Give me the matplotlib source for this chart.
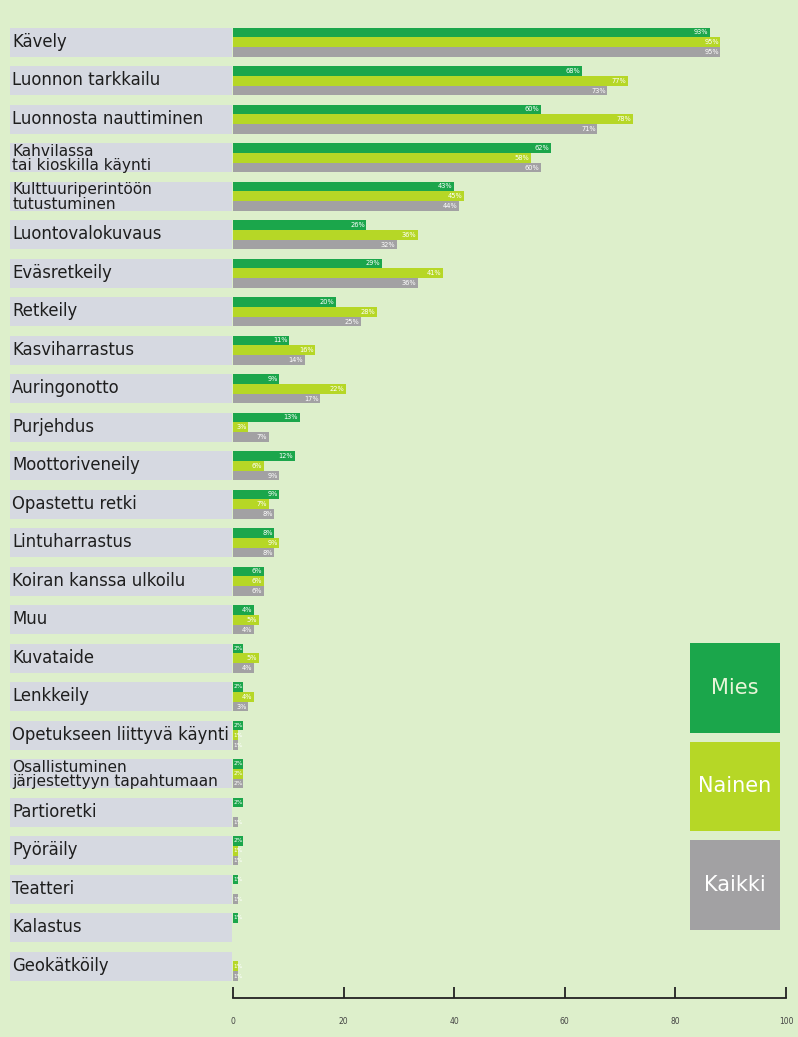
import matplotlib
matplotlib.use("Agg")
import matplotlib.pyplot as plt
from matplotlib.patches import Rectangle
import numpy as np

categories = [
    "Kävely", "Luonnon tarkkailu", "Luonnosta nauttiminen",
    "Kahvilassa\ntai kioskilla käynti", "Kulttuuriperintöön\ntutustuminen",
    "Luontovalokuvaus", "Eväsretkeily", "Retkeily", "Kasviharrastus",
    "Auringonotto", "Purjehdus", "Moottoriveneily", "Opastettu retki",
    "Lintuharrastus", "Koiran kanssa ulkoilu", "Muu", "Kuvataide",
    "Lenkkeily", "Opetukseen liittyvä käynti",
    "Osallistuminen\njärjestettyyn tapahtumaan", "Partioretki", "Pyöräily",
    "Teatteri", "Kalastus", "Geokätköily",
]
mies   = [93, 68, 60, 62, 43, 26, 29, 20, 11, 9, 13, 12, 9, 8, 6, 4, 2, 2, 2, 2, 2, 2, 1, 1, 0]
nainen = [95, 77, 78, 58, 45, 36, 41, 28, 16, 22, 3, 6, 7, 9, 6, 5, 5, 4, 1, 2, 0, 1, 0, 0, 1]
kaikki = [95, 73, 71, 60, 44, 32, 36, 25, 14, 17, 7, 9, 8, 8, 6, 4, 4, 3, 1, 2, 1, 1, 1, 0, 1]
series_names = ["Mies", "Nainen", "Kaikki"]
axis_ticks = [0, 20, 40, 60, 80, 100]

BG = "#ddefcb"
BOX = "#d6d9e1"
COLORS = ["#1ba64b", "#b6d726", "#a2a1a3"]

W, H = 798, 1037
fig = plt.figure(figsize=(W / 100, H / 100), dpi=100)
fig.patch.set_facecolor(BG)

def fx(px):
    return px / W

def fy(py):
    return 1 - py / H

n = len(categories)
row_px = 38.5
top_px = 43 - 0.5 * row_px
bot_px = top_px + n * row_px
ax_bottom = fy(bot_px)
ax_height = (bot_px - top_px) / H

# main bar axes
x0, x100 = 233, 746
ax = fig.add_axes([fx(x0), ax_bottom, fx(x100 - x0), ax_height])
ax.set_facecolor("none")
ax.set_xlim(0, 100)
ax.set_ylim(n - 0.5, -0.5)
ax.axis("off")

y = np.arange(n)
bh = 0.25
offsets = [-0.255, 0.0, 0.255]
for vals, off, col in zip([mies, nainen, kaikki], offsets, COLORS):
    ax.barh(y + off - 0.02, vals, height=bh, color=col, edgecolor="none")
    for yi, v in zip(y, vals):
        if v <= 0:
            continue
        if v >= 3:
            ax.text(v - 0.3, yi + off - 0.02, f"{v}%", ha="right", va="center",
                    fontsize=4.8, color="white", clip_on=False)
        else:
            ax.text(0.15, yi + off - 0.02, f"{v}%", ha="left", va="center",
                    fontsize=4.2, color="white", clip_on=False)

# label boxes axes
lx0, lx1 = 10, 232
lax = fig.add_axes([fx(lx0), ax_bottom, fx(lx1 - lx0), ax_height])
lax.set_facecolor("none")
lax.set_xlim(0, 1)
lax.set_ylim(n - 0.5, -0.5)
lax.axis("off")
lax.barh(y - 0.02, [1] * n, height=0.76, color=BOX, edgecolor="none")
for yi, lab in zip(y, categories):
    two = "\n" in lab
    lax.text(0.01, yi + (0.0 if two else -0.03), lab, ha="left", va="center",
             fontsize=11.1 if two else 11.9,
             color="#1e1e1e", linespacing=0.92, family="DejaVu Sans")

# bottom scale axis
sx0, sx1 = 233, 786
sax = fig.add_axes([fx(sx0), fy(998), fx(sx1 - sx0), 0.01])
sax.set_facecolor("none")
sax.set_xlim(0, 100)
for s in ["top", "left", "right"]:
    sax.spines[s].set_visible(False)
sax.spines["bottom"].set_linewidth(1.3)
sax.spines["bottom"].set_color("#222222")
sax.set_yticks([])
sax.set_xticks(axis_ticks)
sax.set_xticklabels([str(t) for t in axis_ticks])
sax.tick_params(axis="x", direction="in", length=8, width=1.3, color="#222222",
                pad=14, labelsize=5.5, labelcolor="#444444")

# legend boxes
leg = [(643, 733), (742, 831), (840, 930)]
leg_text_colors = ["#e8f5d8", "#ffffff", "#ffffff"]
for (t, b), col, name, tc in zip(leg, COLORS, series_names, leg_text_colors):
    r = Rectangle((fx(690), fy(b)), fx(780 - 690), (b - t) / H,
                  transform=fig.transFigure, facecolor=col, edgecolor="none")
    fig.add_artist(r)
    fig.text(fx(735), fy((t + b) / 2), name, ha="center", va="center",
             fontsize=15, color=tc)

fig.savefig("out.png", dpi=100, facecolor=BG)
